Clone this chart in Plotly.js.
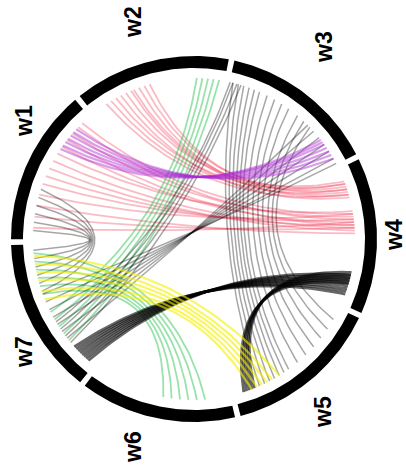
<!DOCTYPE html>
<html><head><meta charset="utf-8">
<script src="https://cdn.plot.ly/plotly-3.0.1.min.js"></script>
<style>html,body{margin:0;padding:0;background:#fff}</style>
</head><body><div id="chart" style="width:406px;height:475px"></div>
<script>
// ---- data ----
const segmentLabels = ['w1','w2','w3','w4','w5','w6','w7'];
// chord ends given as angular positions on the circle (degrees)
const pinkFrom = [106,108,110,112,113,115,117,119,121,123, 134,136,139,142,145,148,151,154,157,160,164,168,172,176];
const pinkTo   = [18,20,16,19,17,21,15,20,18,16, 9,7,8,5,6,10,4,3,5,7,9,2,4,6];
const purpleFrom = [137,138.5,140,141.5,143,144.5,146];
const purpleTo   = [30,31.5,33,34.5,36,37,38];
const blackFrom = [76,74,72,70,68,66,63,60,57,54,50,47,44,
                   -131,-132,-133,-134,-135,-136,-137,-138,
                   -68,-69,-70,-71,-72,
                   162,165,168,171,174,177,
                   200,203,206,209,212,215,218,
                   73,74.5,76,77];
const blackTo   = [-66,-64,-62,-60,-58,-56,-54,-50,-46,-42,-38,-34,-30,
                   -13,-14,-15,-16,-17,-18,-19,-20,
                   -12,-13,-14,-15,-16,
                   199,196,193,190,187,184,
                   28,30,33,36,39,42,45,
                   -140,-143,-146,-149];
const blackThick = [0,0,0,0,0,0,0,0,0,0,0,0,0, 1,1,1,1,1,1,1,1, 1,1,1,1,1, 0,0,0,0,0,0, 0,0,0,0,0,0,0, 0,0,0,0];
const greenFrom = [81,83,85,87,89, 185,188,191,194,197,200];
const greenTo   = [-141,-144,-147,-150,-153, -86,-89,-92,-95,-98,-101];
const yellowFrom = [186,189,192,195,199,202];
const yellowTo   = [-58,-61,-63,-65,-67,-69];

// ---- geometry ----
const CX = 194, CY = 239, R_IN = 171, R_OUT = 183, R_CH = 161, START = 181, GAP = 0.9, BULGE = 0.3;
const rad = d => d*Math.PI/180;
const pt = (a, r) => [CX + r*Math.cos(rad(a)), CY - r*Math.sin(rad(a))];

const traces = [];
// ring segments
const segSpan = 360/segmentLabels.length;
segmentLabels.forEach((lab, i) => {
  const a0 = START - i*segSpan - GAP, a1 = START - (i+1)*segSpan + GAP;
  const xs = [], ys = [];
  for (let k=0;k<=60;k++){ const a=a0+(a1-a0)*k/60; const p=pt(a,R_OUT); xs.push(p[0]); ys.push(p[1]); }
  for (let k=60;k>=0;k--){ const a=a0+(a1-a0)*k/60; const p=pt(a,R_IN); xs.push(p[0]); ys.push(p[1]); }
  traces.push({x:xs,y:ys,mode:'lines',fill:'toself',fillcolor:'#000',line:{width:0,color:'#000'},hoverinfo:'skip',type:'scatter'});
});

function chord(a, b, color, width){
  const p0 = pt(a,R_CH), p2 = pt(b,R_CH);
  const mx = (p0[0]+p2[0])/2, my = (p0[1]+p2[1])/2;
  const c = [CX + BULGE*(mx-CX), CY + BULGE*(my-CY)];
  const xs=[], ys=[];
  for (let k=0;k<=50;k++){ const t=k/50, u=1-t;
    xs.push(u*u*p0[0]+2*u*t*c[0]+t*t*p2[0]);
    ys.push(u*u*p0[1]+2*u*t*c[1]+t*t*p2[1]); }
  traces.push({x:xs,y:ys,mode:'lines',line:{color:color,width:width,shape:'linear'},hoverinfo:'skip',type:'scatter'});
}
pinkFrom.forEach((a,i)=>chord(a,pinkTo[i],'rgba(240,60,90,0.35)',1.8));
greenFrom.forEach((a,i)=>chord(a,greenTo[i],'rgba(30,190,70,0.45)',1.8));
blackFrom.forEach((a,i)=>chord(a,blackTo[i], blackThick[i]?'rgba(0,0,0,0.6)':'rgba(0,0,0,0.35)', blackThick[i]?2.8:1.5));
yellowFrom.forEach((a,i)=>chord(a,yellowTo[i],'rgba(245,240,0,0.6)',2.2));
purpleFrom.forEach((a,i)=>chord(a,purpleTo[i],'rgba(170,40,210,0.45)',2.2));

const labelPos = [[24,121],[133,22],[324,47],[394,235],[323,412],[133,447],[24,352]];
const annotations = segmentLabels.map((t,i)=>({x:labelPos[i][0],y:labelPos[i][1],xref:'x',yref:'y',text:'<b>'+t+'</b>',showarrow:false,textangle:-90,
  font:{family:'Liberation Sans, Arial, sans-serif',size:23,color:'#000'},xanchor:'center',yanchor:'middle'}));
annotations.push({x:400,y:-2,xref:'x',yref:'y',text:'<b>5</b>',showarrow:false,textangle:-90,font:{family:'Liberation Sans',size:23,color:'#000'}});
annotations.push({x:401,y:478,xref:'x',yref:'y',text:'<b>a</b>',showarrow:false,textangle:-90,font:{family:'Liberation Sans',size:23,color:'#000'}});

const layout = {
  width:406,height:475,margin:{l:0,r:0,t:0,b:0},paper_bgcolor:'#fff',plot_bgcolor:'#fff',showlegend:false,
  xaxis:{range:[0,406],visible:false,fixedrange:true},
  yaxis:{range:[475,0],visible:false,fixedrange:true},
  annotations:annotations
};
Plotly.newPlot('chart',traces,layout,{staticPlot:true,displayModeBar:false});
</script></body></html>
